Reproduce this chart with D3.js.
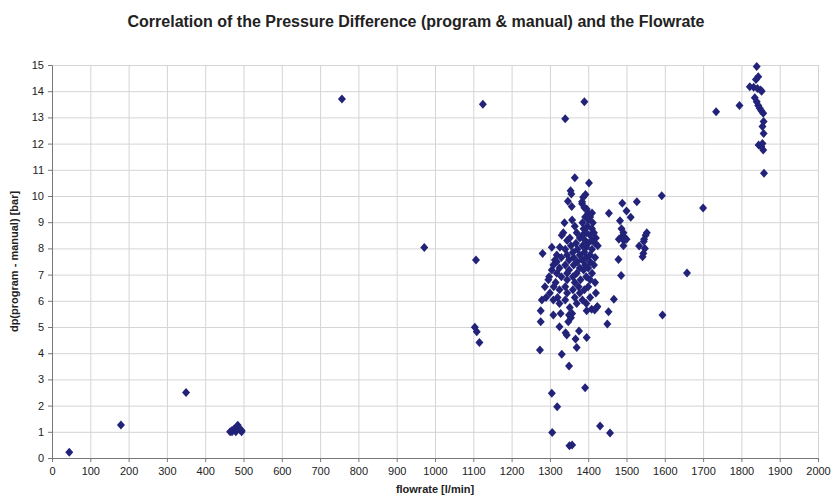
<!DOCTYPE html>
<html>
<head>
<meta charset="utf-8">
<script src="https://cdn.jsdelivr.net/npm/d3@7"></script>
<style>
body { margin: 0; background: #fff; }
svg { display: block; font-family: "Liberation Sans", Arial, sans-serif; }
.axis text { font-size: 11px; fill: #222; }
.axis path, .axis line { stroke: #777; }
.grid line { stroke: #d4d4d4; }
.grid path { display: none; }
</style>
</head>
<body>
<div class="graphic"></div>
<script>
const title = 'Correlation of the Pressure Difference (program & manual) and the Flowrate'
const xLabel = 'flowrate [l/min]'
const yLabel = 'dp(program - manual) [bar]'
const xTicks = d3.range(0, 2001, 100)
const yTicks = d3.range(0, 16, 1)

// flowrate [l/min]
const flow = [
	45, 180, 350, 465, 470, 475, 480, 485, 490, 495, 495, 480, 470, 485,
	757, 972, 1107, 1104, 1109, 1116, 1125, 1340, 1390,
	1350, 1392, 1305, 1319, 1306, 1431, 1457, 1351, 1358,
	1365, 1402, 1354, 1356, 1393, 1387, 1384,
	1347, 1384, 1357, 1390, 1396, 1400, 1410, 1392, 1405, 1358, 1400,
	1338, 1385, 1412, 1365, 1398, 1388, 1410,
	1335, 1370, 1395, 1415, 1331, 1385, 1405,
	1352, 1378, 1420, 1345, 1392, 1410,
	1368, 1400, 1418, 1355, 1385, 1425,
	1305, 1326, 1395, 1340, 1372, 1410,
	1360, 1390, 1281,
	1318, 1345, 1378, 1405, 1330, 1362, 1395, 1418,
	1313, 1350, 1385, 1318, 1372, 1405,
	1309, 1340, 1362, 1392, 1415, 1325, 1378, 1400,
	1305, 1350, 1388, 1318, 1345, 1370, 1410,
	1298, 1330, 1360, 1395, 1296, 1345, 1380, 1405,
	1315, 1365, 1418, 1287, 1310, 1340, 1375, 1400,
	1325, 1360, 1390, 1300, 1345, 1378, 1420,
	1290, 1320, 1365, 1405, 1279, 1309, 1340, 1385,
	1325, 1370, 1395, 1352, 1422, 1409, 1276, 1396, 1328, 1358, 1309, 1350, 1355,
	1276, 1348, 1325, 1376, 1341, 1344, 1396, 1367, 1370, 1274, 1331,
	1454, 1489, 1500, 1511, 1527, 1483, 1487, 1492, 1488, 1496, 1480, 1493, 1500,
	1553, 1550, 1546, 1545, 1492, 1533, 1548, 1544, 1542, 1479, 1486, 1467,
	1453, 1450, 1594, 1592, 1424, 1417,
	1700, 1658, 1734, 1795,
	1840, 1844, 1838, 1822, 1832, 1842, 1850, 1853, 1835, 1840, 1844, 1848, 1852, 1857,
	1858, 1855, 1858, 1845, 1852, 1857, 1855, 1859
]

// dp(program - manual) [bar]
const dp = [
	0.22, 1.26, 2.5, 1.0, 1.05, 1.1, 1.15, 1.25, 1.1, 1.05, 1.0, 1.0, 1.0, 1.18,
	13.7, 8.03, 7.56, 4.99, 4.82, 4.41, 13.5, 12.95, 13.6,
	3.51, 2.68, 2.47, 1.96, 0.97, 1.22, 0.95, 0.47, 0.5,
	10.7, 10.5, 10.2, 10.08, 10.06, 9.95, 9.78,
	9.8, 9.7, 9.6, 9.55, 9.5, 9.35, 9.35, 9.2, 9.2, 9.08, 9.08,
	8.98, 8.98, 8.98, 8.85, 8.85, 8.75, 8.75,
	8.6, 8.6, 8.6, 8.6, 8.5, 8.5, 8.5,
	8.4, 8.4, 8.4, 8.3, 8.3, 8.3,
	8.2, 8.2, 8.2, 8.1, 8.1, 8.1,
	8.04, 8.04, 8.04, 7.97, 7.97, 7.97,
	7.85, 7.85, 7.81,
	7.75, 7.75, 7.75, 7.75, 7.65, 7.65, 7.65, 7.65,
	7.56, 7.56, 7.56, 7.49, 7.49, 7.49,
	7.37, 7.37, 7.37, 7.37, 7.37, 7.25, 7.25, 7.25,
	7.18, 7.18, 7.18, 7.05, 7.05, 7.05, 7.05,
	6.92, 6.92, 6.92, 6.92, 6.8, 6.8, 6.8, 6.8,
	6.7, 6.7, 6.7, 6.54, 6.54, 6.54, 6.54, 6.54,
	6.42, 6.42, 6.42, 6.3, 6.3, 6.3, 6.3,
	6.13, 6.13, 6.13, 6.13, 6.03, 6.03, 6.03, 6.03,
	5.9, 5.9, 5.9, 5.74, 5.74, 5.68, 5.62, 5.62, 5.52, 5.52, 5.46, 5.46, 5.35,
	5.2, 5.2, 5.01, 4.85, 4.78, 4.69, 4.6, 4.54, 4.22, 4.12, 3.96,
	9.34, 9.72, 9.43, 9.19, 9.78, 9.06, 8.75, 8.6, 8.45, 8.4, 8.35, 8.3, 8.35,
	8.6, 8.5, 8.35, 8.26, 8.1, 8.09, 8.0, 7.81, 7.68, 7.58, 6.97, 6.06,
	5.58, 5.11, 5.46, 10.01, 5.78, 5.65,
	9.54, 7.06, 13.22, 13.45,
	14.94, 14.55, 14.45, 14.17, 14.15, 14.1, 14.05, 14.0, 13.75, 13.6, 13.45, 13.35, 13.25, 13.16,
	12.84, 12.65, 12.39, 11.95, 11.88, 11.76, 12.0, 10.87
]

const points = flow.map((f, i) => ({ flow: f, dp: dp[i] }))

const width = 832
const height = 497
const margin = { top: 65, right: 14, bottom: 39, left: 52 }
const innerW = width - margin.left - margin.right
const innerH = height - margin.top - margin.bottom

const svg = d3.select('.graphic').append('svg')
	.attr('width', width)
	.attr('height', height)

const scale = {
	x: d3.scaleLinear().domain([0, 2000]).range([0, innerW]),
	y: d3.scaleLinear().domain([0, 15]).range([innerH, 0]),
}

svg.append('text')
	.attr('x', 416)
	.attr('y', 27)
	.attr('text-anchor', 'middle')
	.style('font-size', '16px')
	.style('font-weight', 'bold')
	.style('fill', '#222')
	.text(title)

const g = svg.append('g')
	.attr('transform', `translate(${margin.left},${margin.top})`)

// grid
g.append('g')
	.attr('class', 'grid')
	.call(d3.axisLeft(scale.y).tickValues(yTicks).tickSize(-innerW).tickFormat(''))
g.append('g')
	.attr('class', 'grid')
	.attr('transform', `translate(0,${innerH})`)
	.call(d3.axisBottom(scale.x).tickValues(xTicks).tickSize(-innerH).tickFormat(''))

// axes
g.append('g')
	.attr('class', 'axis axis--y')
	.call(d3.axisLeft(scale.y).tickValues(yTicks).tickSize(4).tickSizeOuter(0).tickPadding(4))
g.append('g')
	.attr('class', 'axis axis--x')
	.attr('transform', `translate(0,${innerH})`)
	.call(d3.axisBottom(scale.x).tickValues(xTicks).tickFormat(d3.format('d')).tickSize(4).tickSizeOuter(0).tickPadding(5))

// points
const diamond = 'M0,-4.5L4,0L0,4.5L-4,0Z'
g.append('g')
	.selectAll('path')
	.data(points)
	.enter().append('path')
		.attr('d', diamond)
		.attr('transform', d => `translate(${scale.x(d.flow)},${scale.y(d.dp)})`)
		.attr('fill', '#222378')

// labels
svg.append('text')
	.attr('transform', `translate(${18},${margin.top + innerH / 2}) rotate(-90)`)
	.attr('text-anchor', 'middle')
	.style('font-size', '11px')
	.style('font-weight', 'bold')
	.style('fill', '#222')
	.text(yLabel)

svg.append('text')
	.attr('x', 435)
	.attr('y', 493)
	.attr('text-anchor', 'middle')
	.style('font-size', '11px')
	.style('font-weight', 'bold')
	.style('fill', '#222')
	.text(xLabel)
</script>
</body>
</html>
